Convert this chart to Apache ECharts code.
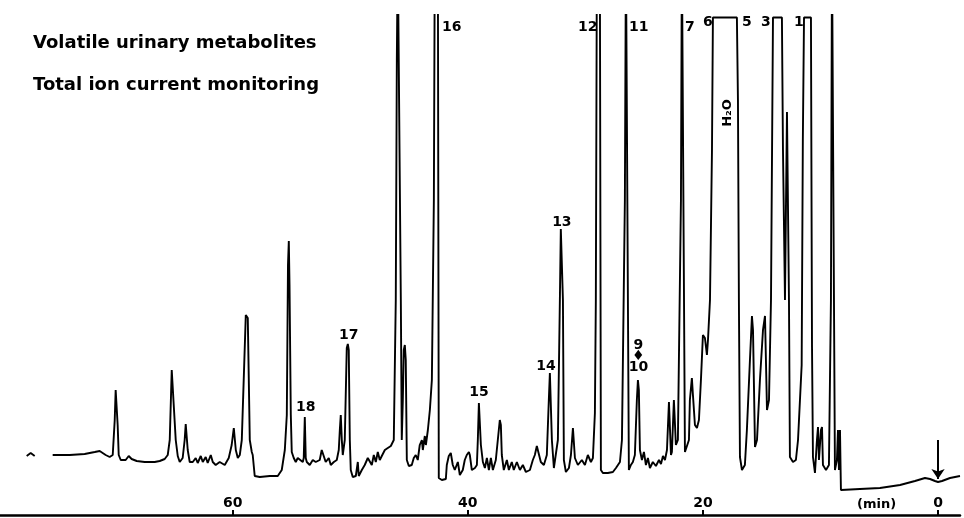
<!DOCTYPE html>
<html><head><meta charset="utf-8">
<script src="https://cdn.jsdelivr.net/npm/echarts@6/dist/echarts.min.js"></script>
<style>html,body{margin:0;padding:0;background:#fff}#c{width:964px;height:518px}</style>
</head><body><div id="c"></div>
<script>
// Retention time (min) and total ion current (relative units)
const retentionTimes = [
75.32,73.87,72.60,71.74,71.32,70.81,70.47,70.21,70.04,69.96,69.87,69.79,69.70,69.53,69.11,68.85,68.60,68.17,67.49,66.64,
66.21,65.79,65.53,65.36,65.19,65.11,65.02,64.85,64.68,64.51,64.26,64.09,64.00,63.91,63.83,63.66,63.40,63.15,62.98,62.72,
62.55,62.30,62.13,61.87,61.70,61.45,61.11,60.68,60.34,60.09,59.91,59.83,59.74,59.57,59.40,59.23,58.89,58.81,58.72,58.55,
58.38,58.30,58.13,57.70,56.85,56.17,55.83,55.57,55.40,55.30,55.23,55.17,55.06,54.98,54.81,54.64,54.47,54.30,54.04,53.96,
53.87,53.79,53.70,53.45,53.19,52.94,52.60,52.43,52.34,52.26,52.09,51.83,51.66,51.40,51.15,50.98,50.89,50.81,50.72,50.64,
50.47,50.30,50.21,50.13,50.04,49.96,49.79,49.53,49.36,49.28,49.02,48.77,48.51,48.34,48.17,48.00,47.83,47.66,47.49,47.32,
47.06,46.81,46.55,46.30,46.13,46.04,45.96,45.79,45.70,45.62,45.53,45.45,45.36,45.28,45.19,45.02,44.77,44.60,44.43,44.26,
44.09,43.91,43.83,43.66,43.57,43.40,43.23,43.06,42.89,42.81,42.55,42.47,42.21,41.87,41.79,41.62,41.45,41.36,41.28,41.11,
40.85,40.68,40.43,40.26,40.09,39.91,39.83,39.66,39.40,39.23,39.15,39.06,38.98,38.89,38.72,38.55,38.38,38.21,38.04,37.87,
37.62,37.45,37.28,37.19,37.11,36.94,36.68,36.51,36.26,36.09,35.83,35.57,35.32,35.06,34.72,34.47,34.30,34.13,33.96,33.79,
33.53,33.28,33.11,33.02,32.94,32.85,32.68,32.51,32.34,32.17,32.09,32.00,31.91,31.83,31.66,31.40,31.23,31.06,30.98,30.89,
30.64,30.30,30.04,29.79,29.53,29.36,29.19,29.11,29.02,28.77,28.68,28.51,28.09,27.66,27.40,27.06,26.89,26.64,26.55,26.38,
26.30,26.13,25.96,25.79,25.62,25.53,25.45,25.36,25.19,25.02,24.85,24.68,24.51,24.26,24.00,23.74,23.57,23.40,23.23,23.06,
22.89,22.81,22.72,22.64,22.47,22.38,22.30,22.13,21.87,21.79,21.62,21.53,21.36,21.19,21.11,20.94,20.85,20.68,20.51,20.34,
20.17,20.00,19.83,19.66,19.57,19.40,19.23,19.15,17.11,17.02,16.94,16.85,16.68,16.43,16.26,16.00,15.83,15.74,15.57,15.40,
15.15,14.89,14.72,14.64,14.55,14.38,14.21,14.04,13.28,13.19,13.02,12.94,12.85,12.77,12.68,12.60,12.34,12.09,11.91,11.60,
11.50,11.40,10.81,10.72,10.64,10.47,10.30,10.21,10.13,9.96,9.87,9.79,9.53,9.28,9.11,9.02,8.85,8.77,8.60,8.51,
8.43,8.34,8.26,8.09,6.64,4.94,3.23,1.96,1.11,0.68,0.26,0,-0.34,-1.02,-1.87
];
const ionCurrent = [
12,12,12.2,12.6,12.8,12,11.6,12,19,25,25,18,12,11,11,11.8,11.2,10.8,10.6,10.6,
10.8,11.2,12,15,29,29.4,29,15,11.8,10.6,11.4,15,18.2,17.8,13,10.6,10.6,11.4,10.4,11.8,
10.6,11.6,10.4,12,10.6,10,10.6,10,11.4,14,17.4,17,13,11.4,12,15,40,40.4,39.4,15,
12.6,12,7.8,7.6,7.8,7.8,9,13,20,50,54.8,46,20,12.6,11.4,10.6,11.4,11,10.6,11.4,
19.6,11.4,10.6,10,11,10.6,11,13,13.4,12.6,10.6,11.4,10,10.6,11,13,17,20,15,12,
15,33.4,34.2,33,15,9,7.6,7.8,10.6,7.8,9,10,11.4,11.8,10,12,10.6,12.6,11,11.8,
13,13.4,13.8,15,43,91,113,113,43,15,23,33,34,31,11,9.8,10,11.4,12,11,
14,15,13,15.8,14,17,21,27,63,113,113,7.4,7,7.2,10,11.8,12.4,12,10,9,
10.6,8,9,11,12,12.6,12,9,9.4,10,15,22.4,22,14,10.6,9.4,11.4,9,11.4,9,
11,15,19,18,12,9,11,9,10.6,9,10.6,9,10,8.6,9,11,12,13.8,13.4,10.6,
10,12,23,28.4,28,15,9.4,9,15,43,57.2,57.2,43,11,8.6,9.4,12,17.4,17,11.4,
10,11,10,12,10.6,11.4,20.4,43,113,113,9,8.4,8.4,8.6,9.4,10.6,15,63,113,113,
9,10,10.6,12,23,27,25,13,11,12.6,10,11.4,9.4,10.6,9.8,11,10.2,11.8,11,13,
22.6,22.6,12,12.6,23,23.4,14,15,63,113,113,12.6,13,15,23,27.4,24,18,17.4,19,
27,36,35.4,32,35,43,73,99.5,99.5,83,43,11.6,9,10,17,31,39.8,37,13.6,15,
27,37,39.8,31,21,23,43,99.5,99.5,73,43,43,80.6,80.6,43,11.6,10.6,11,15,30,
75,99.5,99.5,33.6,11.6,8.4,15,17.6,11,17,17.6,10,9,10,43,113,113,9,11,17,
9,17,5,5,5.2,5.4,6,6.8,7.4,7.2,6.8,6.6,6.8,7.4,7.8
];
// Stray pen mark at the far left of the record
const penMarkTimes = [77.53, 77.19, 76.85];
const penMarkValues = [11.8, 12.4, 11.8];

// Peak numbers with the time and level where each label sits
const peakNames = ['16','12','11','7','6','5','3','1','13','14','15','9\n\u2666\n10','17','18'];
const peakLabelTimes = [41.36, 29.79, 25.45, 21.11, 19.57, 16.26, 14.64, 11.83, 32.0, 33.36, 39.06, 25.49, 50.13, 53.79];
const peakLabelLevels = [97.6, 97.6, 97.6, 97.6, 98.6, 98.6, 98.6, 98.6, 58.6, 29.8, 24.6, 31.8, 36, 21.6];
const waterLabel = ['H\u2082O'];
const waterLabelTime = [17.87];
const waterLabelLevel = [80.4];

// Axis
const tickValues = [60, 40, 20, 0];
const injectionTime = 0;
const injectionArrowFrom = 15;
const injectionArrowTo = 7.2;

const titleLines = ['Volatile urinary metabolites', 'Total ion current monitoring'];
const axisUnit = '(min)';

const chart = echarts.init(document.getElementById('c'), null, {renderer: 'canvas'});
const FONT = '"DejaVu Sans", sans-serif';
const trace = retentionTimes.map((t, i) => [t, ionCurrent[i]]);
const pen = penMarkTimes.map((t, i) => [t, penMarkValues[i]]);
const labels = peakNames.map((n, i) => ({name: n, value: [peakLabelTimes[i], peakLabelLevels[i]]}));
const water = waterLabel.map((n, i) => ({name: n, value: [waterLabelTime[i], waterLabelLevel[i]]}));

chart.setOption({
  animation: false,
  backgroundColor: '#fff',
  grid: {left: 0, right: 4, top: 15, bottom: 3, containLabel: false},
  xAxis: {
    type: 'value', inverse: true, min: -1.87, max: 79.8,
    axisLine: {show: true, lineStyle: {color: '#000', width: 2.5}},
    axisTick: {show: true, inside: true, length: 5, customValues: tickValues, lineStyle: {color: '#000', width: 2}},
    axisLabel: {show: true, inside: true, margin: 5, customValues: tickValues,
      color: '#000', fontFamily: FONT, fontWeight: 'bold', fontSize: 14},
    splitLine: {show: false}
  },
  yAxis: {type: 'value', min: 0, max: 100, show: false},
  graphic: [
    {type: 'text', left: 33, top: 34, style: {text: titleLines[0], font: 'bold 18px ' + FONT, fill: '#000'}},
    {type: 'text', left: 33, top: 76, style: {text: titleLines[1], font: 'bold 18px ' + FONT, fill: '#000'}},
    {type: 'text', left: 857, top: 498, style: {text: axisUnit, font: 'bold 13px ' + FONT, fill: '#000'}}
  ],
  series: [
    {
      type: 'line', data: trace, showSymbol: false, clip: true, silent: true,
      lineStyle: {color: '#000', width: 1.9}, z: 2,
      markLine: {
        silent: true, symbol: ['none', 'arrow'], symbolSize: 10,
        lineStyle: {color: '#000', width: 2, type: 'solid'}, label: {show: false},
        data: [[{coord: [injectionTime, injectionArrowFrom]}, {coord: [injectionTime, injectionArrowTo]}]]
      }
    },
    {
      type: 'line', data: pen, showSymbol: false, clip: true, silent: true,
      lineStyle: {color: '#000', width: 1.9}
    },
    {
      type: 'scatter', data: labels, symbolSize: 0, silent: true, z: 5,
      itemStyle: {opacity: 1},
      label: {show: true, position: 'inside', formatter: p => p.name, color: '#000', opacity: 1,
        fontFamily: FONT, fontWeight: 'bold', fontSize: 14, lineHeight: 11}
    },
    {
      type: 'scatter', data: water, symbolSize: 0, silent: true, z: 5,
      itemStyle: {opacity: 1},
      label: {show: true, position: 'inside', formatter: p => p.name, color: '#000', opacity: 1, rotate: 90,
        fontFamily: FONT, fontWeight: 'bold', fontSize: 13}
    }
  ]
});
</script>
</body></html>
